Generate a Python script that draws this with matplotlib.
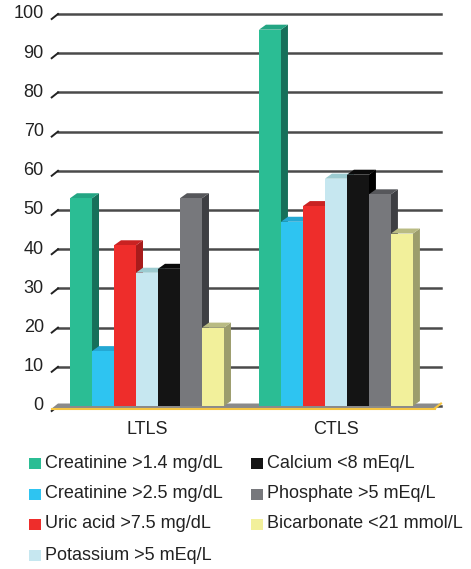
import matplotlib
matplotlib.use('Agg')
import matplotlib.pyplot as plt
from matplotlib.patches import Polygon, Rectangle
import numpy as np

plt.rcParams['font.family'] = ['Liberation Sans', 'DejaVu Sans']

# Data
groups = ['LTLS', 'CTLS']
series = ['Creatinine >1.4 mg/dL', 'Creatinine >2.5 mg/dL', 'Uric acid >7.5 mg/dL',
          'Potassium >5 mEq/L', 'Calcium <8 mEq/L', 'Phosphate >5 mEq/L',
          'Bicarbonate <21 mmol/L']
ltls = [53, 14, 41, 34, 35, 53, 20]
ctls = [96, 47, 51, 58, 59, 54, 44]
yticks = [0, 10, 20, 30, 40, 50, 60, 70, 80, 90, 100]

front = ['#2bbd94', '#2ec4f1', '#ee2d2b', '#c6e7f0', '#141414', '#77787c', '#f2f09b']
side = ['#16705a', '#1b8fb8', '#a81b1b', '#93c3c9', '#000000', '#3e3f43', '#9c9d6c']
top = ['#23a583', '#24a8d3', '#c92222', '#9ccbd0', '#0a0a0a', '#56575b', '#b9bb83']

W, H = 471, 569
fig = plt.figure(figsize=(W / 100, H / 100), dpi=100)
ax = fig.add_axes([58 / W, (H - 406) / H, (441 - 58) / W, (406 - 14) / H])

bw = 0.1164
xmin, xmax = -0.471, 1.556
ax.set_xlim(xmin, xmax)
ax.set_ylim(0, 100)
ddx = 7 / 189          # depth in x data units
ddy = 5 / 3.92         # depth in y data units

# gridlines and slanted ticks
for v in yticks:
    ax.plot([xmin, xmax], [v, v], color='#4a4a4a', lw=1.8, zorder=1, clip_on=False)
    ax.plot([xmin - ddx * 0.9, xmin], [v - ddy, v], color='#222222', lw=1.4,
            zorder=1, clip_on=False)
    ax.text(xmin - 0.075, v, str(v), ha='right', va='center', fontsize=13,
            color='#222222')

# floor
floor = Polygon([(xmin - ddx * 0.9, -ddy * 0.5), (xmax - ddx * 0.9, -ddy * 0.5),
                 (xmax, ddy * 0.5), (xmin, ddy * 0.5)], closed=True,
                facecolor='#8a8a8a', edgecolor='none', zorder=2, clip_on=False)
ax.add_patch(floor)
ax.plot([xmin - ddx * 0.9, xmax - ddx * 0.9], [-ddy * 0.5, -ddy * 0.5],
        color='#f5c542', lw=1.5, zorder=2, clip_on=False)
ax.plot([xmax - ddx * 0.9, xmax], [-ddy * 0.5, ddy * 0.5],
        color='#f5c542', lw=1.5, zorder=2, clip_on=False)

n = len(series)
for gi, vals in enumerate([ltls, ctls]):
    for i, v in enumerate(vals):
        x0 = gi - n * bw / 2 + i * bw
        x1 = x0 + bw
        z = 3 + i
        ax.add_patch(Polygon([(x1, 0), (x1, v), (x1 + ddx, v + ddy), (x1 + ddx, ddy)],
                             closed=True, facecolor=side[i], edgecolor='none',
                             zorder=z, clip_on=False))
        ax.add_patch(Polygon([(x0, v), (x1, v), (x1 + ddx, v + ddy), (x0 + ddx, v + ddy)],
                             closed=True, facecolor=top[i], edgecolor='none',
                             zorder=z, clip_on=False))
        ax.bar(x0, v, width=bw, align='edge', color=front[i], edgecolor='none',
               zorder=z + 0.5, clip_on=False)

ax.set_xticks([0, 1])
ax.set_xticklabels(groups, fontsize=13, color='#222222')
ax.tick_params(axis='x', length=0, pad=11)
ax.set_yticks([])
for s in ax.spines.values():
    s.set_visible(False)
ax.patch.set_alpha(0)

# legend
rows_y = [463, 494, 524, 555]
for i, lab in enumerate(series):
    col = 0 if i < 4 else 1
    r = i if i < 4 else i - 4
    mx = 29 if col == 0 else 251
    y = rows_y[r]
    fig.add_artist(Rectangle((mx / W, (H - y - 6) / H), 12 / W, 11 / H,
                             transform=fig.transFigure, facecolor=front[i],
                             edgecolor='none'))
    fig.text((mx + 16) / W, (H - y) / H, lab, ha='left', va='center',
             fontsize=13, color='#222222')

fig.savefig('out.png', dpi=100)
